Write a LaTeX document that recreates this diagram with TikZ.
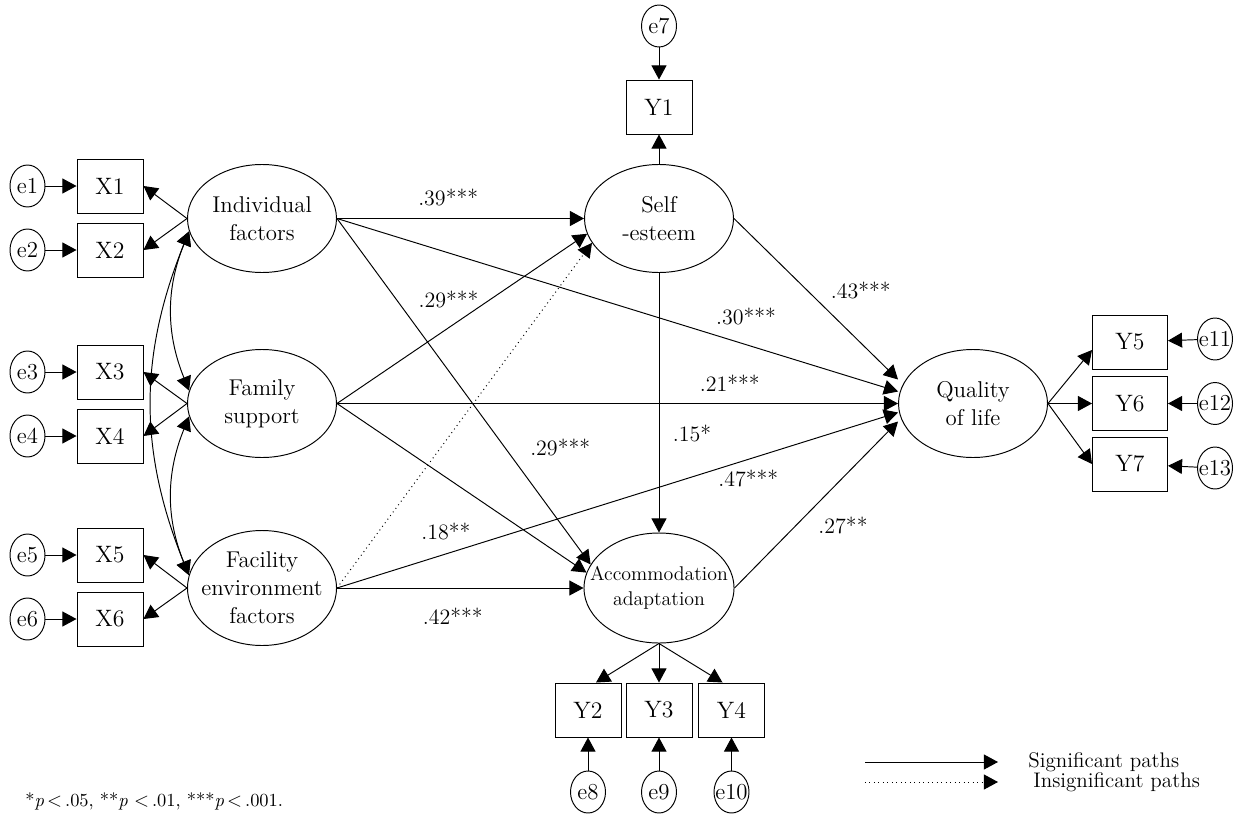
\documentclass[tikz,border=0pt]{standalone}
\usepackage{tikz}
\usetikzlibrary{shapes, arrows.meta, positioning}

\begin{document}
\begin{tikzpicture}[
        latent/.style={ellipse, draw, line width=0.55pt, minimum width=2.98cm, minimum height=2.16cm, inner xsep=-9pt, inner ysep=0pt, align=center, font=\fontsize{13}{16}\selectfont},
        obs/.style={rectangle, draw, line width=0.55pt, minimum width=1.32cm, minimum height=1.08cm, font=\fontsize{13.5}{15}\selectfont},
        err/.style={ellipse, draw, line width=0.55pt, minimum width=0.7cm, minimum height=0.84cm, inner sep=0pt, inner xsep=-4pt, font=\fontsize{13}{15}\selectfont},
        arr/.style={-{Triangle[length=8pt, width=8.5pt]}, line width=0.55pt},
        cov/.style={{Triangle[length=8pt, width=8.5pt]}-{Triangle[length=8pt, width=8.5pt]}, line width=0.55pt},
        coef/.style={font=\fontsize{12.5}{14}\selectfont, inner sep=1pt},
        legend/.style={anchor=west, inner sep=0pt, font=\fontsize{12}{14}\selectfont}
    ]
        \useasboundingbox (0,0) rectangle (24.8,-16.28);

        % latent variables
        \node[latent] (ind) at (5.24, -4.37) {Individual\\factors};
        \node[latent] (fam) at (5.24, -8.07) {Family\\support};
        \node[latent, minimum height=2.3cm] (fac) at (5.24, -11.76) {Facility\\environment\\factors};
        \node[latent] (self) at (13.18, -4.37) {Self\\-esteem};
        \node[latent, minimum height=2.2cm, font=\fontsize{11.3}{14.5}\selectfont] (acc) at (13.18, -11.76) {Accommodation\\adaptation};
        \node[latent] (qol) at (19.46, -8.07) {Quality\\of life};

        % indicators
        \node[obs] (X1) at (2.2, -3.72) {X1};
        \node[obs] (X2) at (2.2, -5.0) {X2};
        \node[obs] (X3) at (2.2, -7.44) {X3};
        \node[obs] (X4) at (2.2, -8.72) {X4};
        \node[obs] (X5) at (2.2, -11.1) {X5};
        \node[obs] (X6) at (2.2, -12.38) {X6};
        \node[obs] (Y1) at (13.18, -2.14) {Y1};
        \node[obs] (Y2) at (11.76, -14.2) {Y2};
        \node[obs] (Y3) at (13.18, -14.2) {Y3};
        \node[obs] (Y4) at (14.63, -14.2) {Y4};
        \node[obs, minimum width=1.5cm] (Y5) at (22.6, -6.84) {Y5};
        \node[obs, minimum width=1.5cm] (Y6) at (22.6, -8.07) {Y6};
        \node[obs, minimum width=1.5cm] (Y7) at (22.6, -9.28) {Y7};

        % errors
        \node[err] (e1) at (0.55, -3.72) {e1};
        \node[err] (e2) at (0.55, -5.0) {e2};
        \node[err] (e3) at (0.55, -7.44) {e3};
        \node[err] (e4) at (0.55, -8.72) {e4};
        \node[err] (e5) at (0.55, -11.1) {e5};
        \node[err] (e6) at (0.55, -12.38) {e6};
        \node[err] (e7) at (13.18, -0.52) {e7};
        \node[err] (e8) at (11.76, -15.84) {e8};
        \node[err] (e9) at (13.18, -15.84) {e9};
        \node[err] (e10) at (14.63, -15.84) {e10};
        \node[err] (e11) at (24.3, -6.78) {e11};
        \node[err] (e12) at (24.3, -8.07) {e12};
        \node[err] (e13) at (24.3, -9.36) {e13};

        \draw[arr] (e1) -- (X1);
        \draw[arr] (e2) -- (X2);
        \draw[arr] (e3) -- (X3);
        \draw[arr] (e4) -- (X4);
        \draw[arr] (e5) -- (X5);
        \draw[arr] (e6) -- (X6);
        \draw[arr] (e7) -- (Y1);
        \draw[arr] (e8) -- (Y2);
        \draw[arr] (e9) -- (Y3);
        \draw[arr] (e10) -- (Y4);
        \draw[arr] (e11) -- (Y5);
        \draw[arr] (e12) -- (Y6);
        \draw[arr] (e13) -- (Y7);

        % measurement paths
        \draw[arr] (ind.west) -- (X1.east);
        \draw[arr] (ind.west) -- (X2.east);
        \draw[arr] (fam.west) -- (X3.east);
        \draw[arr] (fam.west) -- (X4.east);
        \draw[arr] (fac.west) -- (X5.east);
        \draw[arr] (fac.west) -- (X6.east);
        \draw[arr] (self) -- (Y1);
        \draw[arr] (acc.south) -- ([xshift=0.16cm]Y2.north);
        \draw[arr] (acc) -- (Y3);
        \draw[arr] (acc.south) -- ([xshift=-0.18cm]Y4.north);
        \draw[arr] (qol.east) -- ([yshift=-0.16cm]Y5.west);
        \draw[arr] (qol.east) -- (Y6.west);
        \draw[arr] (qol.east) -- (Y7.west);

        % covariances
        \draw[cov] (ind.190) to[bend right=22] (fam.170);
        \draw[cov] (ind.190) to[bend right=22] (fac.170);
        \draw[cov] (fam.190) to[bend right=22] (fac.170);

        % structural paths
        \draw[arr] (ind.east) -- node[coef, pos=.45, yshift=0.42cm] {.39***} (self.west);
        \draw[arr] (fam.east) -- node[coef, pos=.446, yshift=0.56cm] {.29***} (self.192);
        \draw[arr, dotted] (fac.east) -- (self.200);
        \draw[arr] (ind.east) -- node[coef, pos=.729, yshift=0.56cm] {.30***} ([yshift=0.24cm]qol.west);
        \draw[arr] (fam.east) -- node[coef, pos=.70, yshift=0.4cm] {.21***} (qol.west);
        \draw[arr] (fac.east) -- node[coef, pos=.194, yshift=0.44cm] {.18**} node[coef, pos=.733, yshift=-0.39cm] {.47***} ([yshift=-0.18cm]qol.west);
        \draw[arr] (ind.east) -- node[coef, pos=.663, xshift=1.1cm] {.29***} (acc.161);
        \draw[arr] (fam.east) -- (acc.168);
        \draw[arr] (fac.east) -- node[coef, pos=.47, yshift=-0.56cm] {.42***} (acc.west);
        \draw[arr] (self.east) -- node[coef, pos=.45, xshift=1.06cm] {.43***} ([yshift=0.48cm]qol.west);
        \draw[arr] (self) -- node[coef, pos=.62, xshift=0.66cm] {.15*} (acc);
        \draw[arr] (acc.east) -- node[coef, pos=.376, xshift=0.94cm] {.27**} ([yshift=-0.36cm]qol.west);

        % legend and note
        \coordinate (sigA) at (17.3, -15.24);
        \coordinate (sigB) at (19.96, -15.24);
        \coordinate (insA) at (17.3, -15.64);
        \coordinate (insB) at (19.96, -15.64);
        \draw[arr] (sigA) -- (sigB);
        \draw[arr, dotted] (insA) -- (insB);
        \node[legend] (sig) at (20.56, -15.24) {Significant paths};
        \node[legend] (ins) at (20.66, -15.64) {Insignificant paths};
        \node[legend, font=\fontsize{10.5}{12}\selectfont] (note) at (0.5, -16.02) {*\textit{p}\,$<$\,.05, **\textit{p} $<$\,.01, ***\textit{p}\,$<$\,.001.};
    \end{tikzpicture}
\end{document}
